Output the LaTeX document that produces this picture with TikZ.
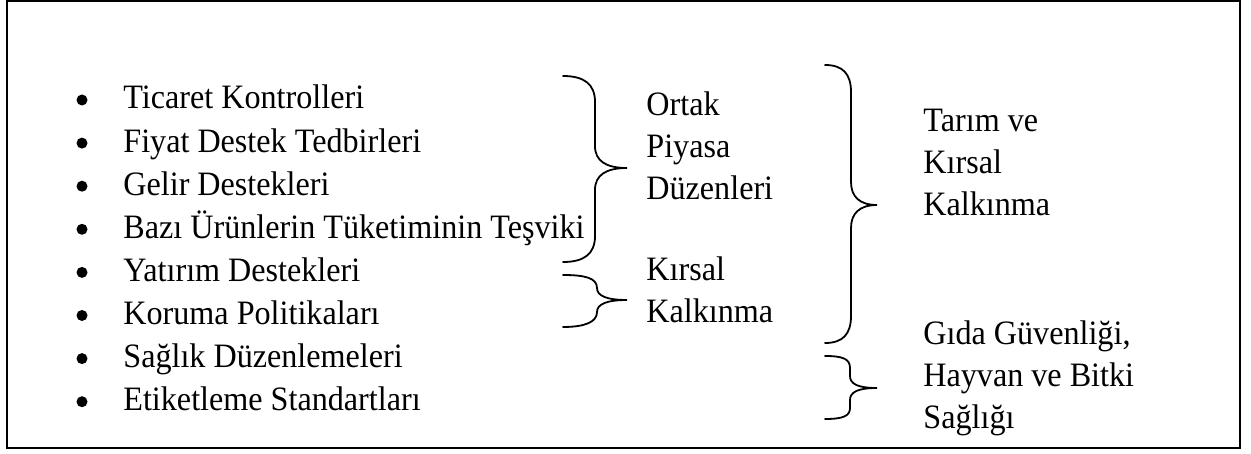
\documentclass[tikz,border=0pt]{standalone}
\usepackage{fontspec}
\setmainfont[FakeStretch=0.94]{Liberation Serif}
\begin{document}
\begin{tikzpicture}[x=0.5pt, y=-0.5pt]

    % Estilos
    \tikzset{
        item/.style={anchor=base west, inner sep=0pt, font=\fontsize{17.1}{21}\selectfont},
        grupo/.style={item, align=left},
        marcador/.style={circle, fill=black, inner sep=0pt, minimum size=5.5pt},
        chave/.style={line width=0.9pt, line cap=round}
    }

    % --------------------
    % Moldura
    % --------------------
    \useasboundingbox (0,0) rectangle (1251,454);
    \draw[line width=1pt] (7,1) rectangle (1240,448);

    % --------------------
    % Lista de medidas
    % --------------------
    \foreach \texto [count=\i] in {Ticaret Kontrolleri, Fiyat Destek Tedbirleri,
        Gelir Destekleri, Bazı Ürünlerin Tüketiminin Teşviki, Yatırım Destekleri,
        Koruma Politikaları, Sağlık Düzenlemeleri, Etiketleme Standartları}
    {
        \node[marcador] (m\i) at (82, {100+43.1*(\i-1)}) {};
        \node[item] (item\i) at (123, {109+43.1*(\i-1)}) {\texto};
    }

    % --------------------
    % Chave 1
    % --------------------
    \draw[chave] (563,76) .. controls (584,76) and (595,84) .. (595,102)
        -- (595,146) .. controls (595,161) and (606,168) .. (627,168)
        .. controls (606,168) and (595,175) .. (595,190)
        -- (595,236) .. controls (595,254) and (584,262) .. (563,262);

    % ancorado na linha de base da última linha
    \node[grupo] (ortak) at (646,199) {Ortak\\Piyasa\\Düzenleri};

    % --------------------
    % Chave 2
    % --------------------
    \draw[chave] (563,275) .. controls (585,275) and (597,278) .. (597,288)
        .. controls (597,296) and (607,300) .. (627,300)
        .. controls (607,300) and (597,304) .. (597,312)
        .. controls (597,322) and (585,327) .. (563,327);

    \node[grupo] (kirsal) at (646,322) {Kırsal\\Kalkınma};

    % --------------------
    % Chave 3
    % --------------------
    \draw[chave] (825,65) .. controls (843,65) and (851,74) .. (851,92)
        -- (851,182) .. controls (851,197) and (860,205) .. (877,205)
        .. controls (860,205) and (851,213) .. (851,228)
        -- (851,316) .. controls (851,334) and (843,343) .. (825,343);

    \node[grupo] (tarim) at (923,215) {Tarım ve\\Kırsal\\Kalkınma};

    % --------------------
    % Chave 4
    % --------------------
    \draw[chave] (825,356) .. controls (843,356) and (850,359) .. (850,368)
        -- (850,376) .. controls (850,384) and (858,388) .. (877,388)
        .. controls (858,388) and (850,392) .. (850,400)
        -- (850,408) .. controls (850,416) and (843,419) .. (825,419);

    \node[grupo] (gida) at (923,428) {Gıda Güvenliği,\\Hayvan ve Bitki\\Sağlığı};

\end{tikzpicture}
\end{document}
